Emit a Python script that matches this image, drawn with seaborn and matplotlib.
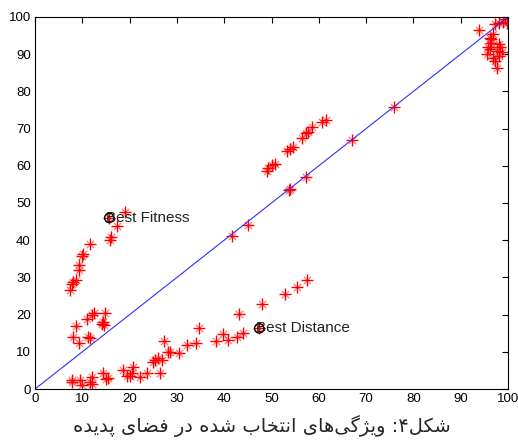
"""
Selected features in feature space (scatter of feature pairs vs. diagonal).
"""

import pandas as pd
import matplotlib
matplotlib.use("Agg")
import matplotlib.pyplot as plt
import seaborn as sns

# -------------------------------------------------
# Data
# -------------------------------------------------
arc_x = [7.3, 7.8, 8.1, 8.7, 9.2, 9.4, 9.9, 10.2, 11.6, 16.0, 15.9, 17.4, 19.0]
arc_y = [26.6, 28.2, 28.8, 29.4, 31.9, 33.2, 35.7, 36.2, 39.0, 40.8, 40.1, 43.7, 47.5]

mid_x = [8.7, 8.1, 9.2, 11.3, 11.6, 10.9, 12.0, 12.5, 14.8, 14.4, 14.6, 14.1]
mid_y = [17.0, 13.9, 12.4, 13.9, 13.7, 18.7, 19.8, 20.3, 20.5, 18.0, 17.2, 17.6]

low_x = [7.8, 7.8, 9.5, 9.9, 12.0, 11.6, 12.0, 14.3, 15.0, 15.5, 18.5, 19.4,
         20.1, 20.8, 20.4, 22.2, 23.6, 25.0, 25.4, 26.1, 26.8, 26.4, 27.3,
         28.2, 28.5, 30.5, 32.1, 34.0, 34.7]
low_y = [2.4, 2.0, 2.4, 1.1, 3.3, 2.0, 1.3, 4.2, 2.6, 2.9, 5.1, 3.5,
         3.5, 6.0, 4.2, 3.3, 4.2, 7.3, 7.8, 8.2, 7.8, 4.2, 12.9,
         10.0, 10.0, 9.7, 11.8, 12.3, 16.3]

tail_x = [38.3, 39.8, 40.9, 42.8, 43.9, 43.2, 47.9, 52.9, 55.4, 57.6]
tail_y = [13.0, 14.7, 13.3, 14.0, 15.1, 20.1, 22.8, 25.5, 27.4, 29.2]

diag_x = [41.6, 45.1, 53.6, 53.9, 57.2, 67.0, 75.9]
diag_y = [41.2, 44.2, 53.4, 53.7, 57.1, 66.9, 75.9]

upper_x = [49.0, 49.3, 50.0, 50.7, 53.3, 53.9, 54.5, 56.4, 57.3, 57.8, 58.6,
           60.7, 61.5]
upper_y = [58.7, 59.4, 60.1, 60.5, 63.9, 64.5, 65.1, 67.5, 68.7, 69.2, 70.5,
           71.9, 72.4]

corner_x = [93.9, 97.3, 98.0, 99.4, 99.7, 99.0, 96.2, 96.5, 95.8, 98.0, 98.3,
            97.6, 95.5, 98.0, 97.3, 97.6, 96.5, 96.9, 98.7, 96.9, 96.2]
corner_y = [96.4, 98.0, 98.5, 99.4, 98.5, 98.7, 94.4, 93.1, 91.8, 92.7, 91.8,
            90.9, 90.0, 89.5, 88.2, 86.4, 94.0, 95.4, 90.5, 89.1, 91.5]

best_labels = ["Best Fitness", "Best Distance"]
best_x = [15.7, 47.4]
best_y = [46.0, 16.3]

ref_line = [0, 100]
ticks = list(range(0, 101, 10))

caption = "شکل۴: ویژگی\u200cهای انتخاب شده در فضای پدیده"

# -------------------------------------------------
# Minimal Persian shaping (matplotlib has no shaper)
# -------------------------------------------------
DUAL = {
    "ش": "\uFEB5\uFEB6\uFEB7\uFEB8", "ک": "\uFB8E\uFB8F\uFB90\uFB91",
    "ل": "\uFEDD\uFEDE\uFEDF\uFEE0", "ی": "\uFBFC\uFBFD\uFBFE\uFBFF",
    "گ": "\uFB92\uFB93\uFB94\uFB95", "ه": "\uFEE9\uFEEA\uFEEB\uFEEC",
    "ن": "\uFEE5\uFEE6\uFEE7\uFEE8", "ت": "\uFE95\uFE96\uFE97\uFE98",
    "خ": "\uFEA5\uFEA6\uFEA7\uFEA8", "ب": "\uFE8F\uFE90\uFE91\uFE92",
    "ف": "\uFED1\uFED2\uFED3\uFED4", "ض": "\uFEBD\uFEBE\uFEBF\uFEC0",
    "پ": "\uFB56\uFB57\uFB58\uFB59",
}
RIGHT = {
    "و": "\uFEED\uFEEE", "ژ": "\uFB8A\uFB8B", "ا": "\uFE8D\uFE8E",
    "د": "\uFEA9\uFEAA", "ر": "\uFEAD\uFEAE",
}


def shape_fa(text):
    out = []
    for i, ch in enumerate(text):
        if ch not in DUAL and ch not in RIGHT:
            if ch != "\u200c":
                out.append(ch)
            continue
        prev = text[i - 1] if i > 0 else ""
        nxt = text[i + 1] if i + 1 < len(text) else ""
        join_prev = prev in DUAL
        join_next = ch in DUAL and (nxt in DUAL or nxt in RIGHT)
        if ch in RIGHT:
            out.append(RIGHT[ch][1 if join_prev else 0])
        else:
            idx = {(False, False): 0, (True, False): 1,
                   (False, True): 2, (True, True): 3}[(join_prev, join_next)]
            out.append(DUAL[ch][idx])
    return "".join(out)[::-1]


# -------------------------------------------------
# Build table
# -------------------------------------------------
points_df = pd.DataFrame({
    "x": arc_x + mid_x + low_x + tail_x + diag_x + upper_x + corner_x + best_x,
    "y": arc_y + mid_y + low_y + tail_y + diag_y + upper_y + corner_y + best_y,
})
best_df = pd.DataFrame({"x": best_x, "y": best_y, "label": best_labels})

# -------------------------------------------------
# Plot
# -------------------------------------------------
sns.set_style("white")
plt.rcParams["font.family"] = ["Liberation Sans", "DejaVu Sans"]

fig = plt.figure(figsize=(5.18, 4.41), dpi=100)
ax = fig.add_axes([0.0676, 0.1179, 0.9131, 0.8436])

sns.lineplot(x=ref_line, y=ref_line, color="#3030ff", linewidth=0.8, ax=ax)
# MATLAB-style asterisk: long + arms with fainter diagonal arms
sns.scatterplot(data=points_df, x="x", y="y", marker="x", s=28,
                color="#ff5050", linewidth=0.9, alpha=0.75, ax=ax)
sns.scatterplot(data=points_df, x="x", y="y", marker="+", s=70,
                color="red", linewidth=1.0, ax=ax)
sns.scatterplot(data=best_df, x="x", y="y", marker="o", s=45,
                facecolor="none", edgecolor="black", linewidth=1.0, ax=ax)

for _, row in best_df.iterrows():
    ax.text(row["x"] - 0.6, row["y"], row["label"], fontsize=11,
            ha="left", va="center", color="#222222")

ax.set_xlim(0, 100)
ax.set_ylim(0, 100)
ax.set_xticks(ticks)
ax.set_yticks(ticks)
ax.set_xlabel("")
ax.set_ylabel("")
ax.tick_params(direction="in", top=True, right=True, length=4,
               width=0.8, labelsize=9.5, pad=3, colors="black")
for spine in ax.spines.values():
    spine.set_visible(True)
    spine.set_color("black")
    spine.set_linewidth(0.8)

fig.text(0.505, 0.035, shape_fa(caption), ha="center", va="center",
         fontsize=14, family=["DejaVu Sans"])

plt.savefig("out.png", dpi=100)
plt.close()
print("Saved out.png")
